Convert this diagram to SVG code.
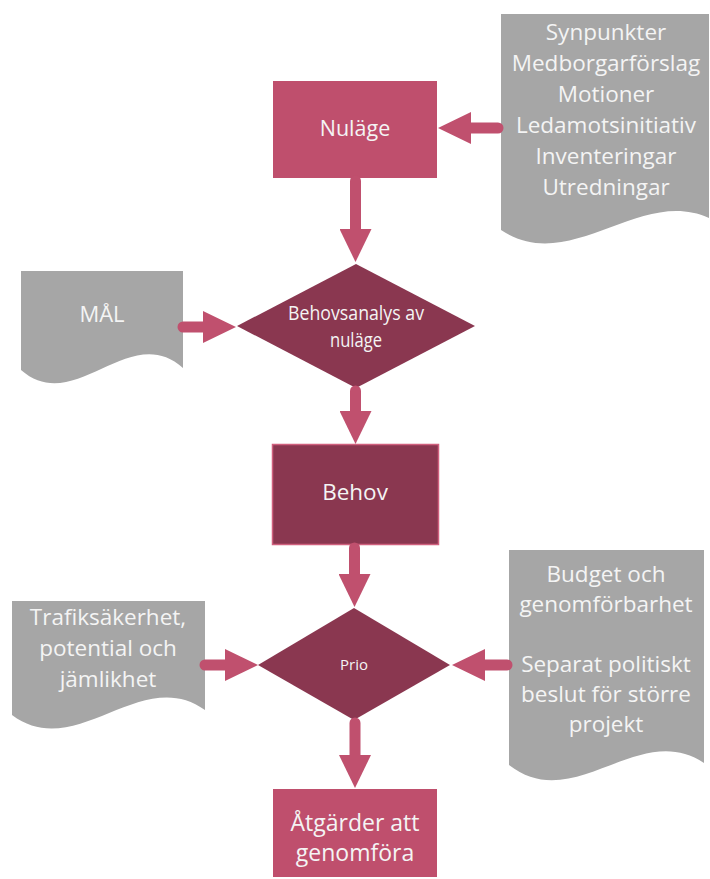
<svg xmlns="http://www.w3.org/2000/svg" width="710" height="879" viewBox="0 0 710 879">
<style>
.doc{fill:#A6A6A6}
.pink{fill:#BF4F6D}
.dark{fill:#8A3750}
.bord{stroke:#D0607E;stroke-width:1.5}
.t{font-family:"Open Sans","Liberation Sans",sans-serif;fill:#F4F4F4;text-anchor:middle}
.d{font-size:22.5px}
.conn line{stroke:#C0506E;stroke-width:11;stroke-linecap:round;marker-end:url(#ah)}
</style>
<defs>
<marker id="ah" viewBox="0 -16 33 32" refX="0" refY="0" markerWidth="33" markerHeight="32" markerUnits="userSpaceOnUse" orient="auto">
<path d="M0,-16 L33,0 L0,16 Z" fill="#C0506E"/>
</marker>
</defs>
<rect width="710" height="879" fill="#FFFFFF"/>

<g id="inputs-top">
<path class="doc" d="M501,14 H709 V218 C640,186 570,276 501,230 Z"/>
<text class="t d" x="606" y="40">Synpunkter</text>
<text class="t d" x="606" y="71">Medborgarförslag</text>
<text class="t d" x="606" y="102">Motioner</text>
<text class="t d" x="606" y="133">Ledamotsinitiativ</text>
<text class="t d" x="606" y="164">Inventeringar</text>
<text class="t d" x="606" y="195">Utredningar</text>
</g>

<g id="nulage">
<rect class="pink" x="273" y="81" width="164" height="97"/>
<text class="t" font-size="21.5" x="355" y="136">Nuläge</text>
</g>

<g id="mal">
<path class="doc" d="M21,271 H183 V368 C129,320 75,417 21,370 Z"/>
<text class="t" font-size="22" x="102" y="322">MÅL</text>
</g>

<g id="behovsanalys">
<polygon class="dark" points="356,264 475,326 356,388 237,326"/>
<text class="t" font-size="19.5" x="356" y="320" textLength="136" lengthAdjust="spacingAndGlyphs">Behovsanalys av</text>
<text class="t" font-size="19.5" x="356" y="347" textLength="52" lengthAdjust="spacingAndGlyphs">nuläge</text>
</g>

<g id="behov">
<rect class="dark bord" x="272.5" y="444.5" width="166" height="100"/>
<text class="t" font-size="22.5" x="355" y="500">Behov</text>
</g>

<g id="trafik">
<path class="doc" d="M12,601 H205 V710 C141,664 76,763 12,715 Z"/>
<text class="t d" x="108" y="625">Trafiksäkerhet,</text>
<text class="t d" x="108" y="656">potential och</text>
<text class="t d" x="108" y="687">jämlikhet</text>
</g>

<g id="prio">
<polygon class="dark" points="354,608 450,665 354,720 258,665"/>
<text class="t" font-size="15" x="354" y="670">Prio</text>
</g>

<g id="budget">
<path class="doc" d="M509,550 H704 V763 C639,719 574,816 509,765 Z"/>
<text class="t d" x="606" y="582">Budget och</text>
<text class="t d" x="606" y="612">genomförbarhet</text>
<text class="t d" x="606" y="672">Separat politiskt</text>
<text class="t d" x="606" y="702">beslut för större</text>
<text class="t d" x="606" y="732">projekt</text>
</g>

<g id="atgarder">
<rect class="pink" x="273" y="789" width="164" height="88"/>
<text class="t" font-size="23" x="355" y="831">Åtgärder att</text>
<text class="t" font-size="23" x="355" y="861">genomföra</text>
</g>

<g id="connectors" class="conn">
<line x1="498" y1="128" x2="471" y2="128"/>
<line x1="355.5" y1="181" x2="355.5" y2="229"/>
<line x1="183" y1="327" x2="203" y2="327"/>
<line x1="355.5" y1="391" x2="355.5" y2="411"/>
<line x1="354.5" y1="548" x2="354.5" y2="574"/>
<line x1="205" y1="665" x2="225" y2="665"/>
<line x1="507" y1="665" x2="485" y2="665"/>
<line x1="355" y1="723" x2="355" y2="755"/>
</g>
</svg>
